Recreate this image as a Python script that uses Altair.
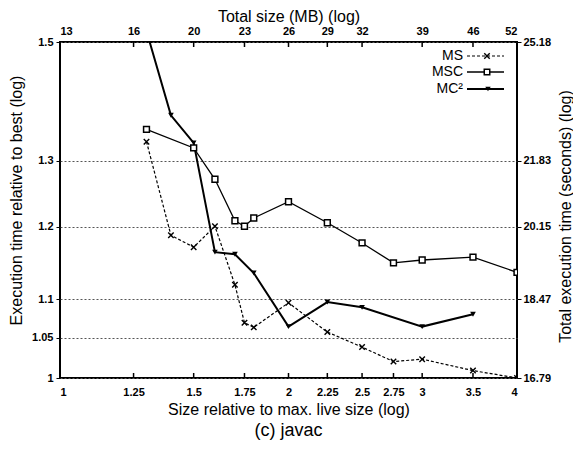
import altair as alt
import pandas as pd

# ---- data ----
x_ms = [1.3, 1.4, 1.5, 1.6, 1.7, 1.75, 1.8, 2, 2.25, 2.5, 2.75, 3, 3.5, 4]
y_ms = [1.33, 1.188, 1.171, 1.201, 1.119, 1.069, 1.063, 1.095, 1.057, 1.038, 1.02, 1.023, 1.009, 1.0]

x_msc = [1.3, 1.5, 1.6, 1.7, 1.75, 1.8, 2, 2.25, 2.5, 2.75, 3, 3.5, 4]
y_msc = [1.35, 1.32, 1.271, 1.209, 1.201, 1.213, 1.237, 1.206, 1.177, 1.149, 1.153, 1.157, 1.136]

x_mc2 = [1.3, 1.4, 1.5, 1.6, 1.7, 1.8, 2, 2.25, 2.5, 3, 3.5]
y_mc2 = [1.52, 1.373, 1.328, 1.164, 1.161, 1.135, 1.064, 1.096, 1.089, 1.064, 1.080]

bottom_ticks = [1, 1.25, 1.5, 1.75, 2, 2.25, 2.5, 2.75, 3, 3.5, 4]
bottom_labels = ["1", "1.25", "1.5", "1.75", "2", "2.25", "2.5", "2.75", "3", "3.5", "4"]
top_ticks = [1, 1.25, 1.5, 1.75, 2, 2.25, 2.5, 3, 3.5, 4]
top_labels = ["13", "16", "20", "23", "26", "29", "32", "39", "46", "52"]
left_ticks = [1, 1.05, 1.1, 1.2, 1.3, 1.5]
left_labels = ["1", "1.05", "1.1", "1.2", "1.3", "1.5"]
right_ticks = [1, 1.1, 1.2, 1.3, 1.5]
right_labels = ["16.79", "18.47", "20.15", "21.83", "25.18"]

series_names = ["MS", "MSC", "MC\u00b2"]

FONT = "Liberation Sans"


def label_expr(vals, labs):
    expr = "''"
    for v, l in reversed(list(zip(vals, labs))):
        expr = f"datum.value == {v} ? '{l}' : ({expr})"
    return expr


xs = alt.Scale(type="log", domain=[1, 4], nice=False, zero=False)
ys = alt.Scale(type="log", domain=[1, 1.5], nice=False, zero=False)

df_ms = pd.DataFrame({"x": x_ms, "y": y_ms})
df_msc = pd.DataFrame({"x": x_msc, "y": y_msc})
df_mc2 = pd.DataFrame({"x": x_mc2, "y": y_mc2})
df_bt = pd.DataFrame({"v": bottom_ticks})
df_tt = pd.DataFrame({"v": top_ticks})

common_axis = dict(labelFont=FONT, labelFontSize=11, labelFontWeight="bold", labelColor="black",
                   titleFont=FONT, titleFontSize=16, titleFontWeight="normal", titleColor="black",
                   domain=False)

left_axis = alt.Axis(orient="left", values=left_ticks, labelExpr=label_expr(left_ticks, left_labels),
                     grid=True, gridColor="#555555", gridDash=[2, 2], gridWidth=1,
                     tickSize=4, tickColor="black", tickWidth=1, labelPadding=3,
                     title="Execution time relative to best (log)", titleAngle=270,
                     titleX=-44, titleY=158, titleAlign="center", titleBaseline="middle",
                     **common_axis)
right_axis = alt.Axis(orient="right", values=right_ticks, labelExpr=label_expr(right_ticks, right_labels),
                      grid=False, tickSize=4, tickColor="black", tickWidth=1, labelPadding=2,
                      title="Total execution time (seconds) (log)", titleAngle=270,
                      titleX=48, titleY=174, titleAlign="center", titleBaseline="middle",
                      **common_axis)
bottom_axis = alt.Axis(orient="bottom", values=bottom_ticks, labelExpr=label_expr(bottom_ticks, bottom_labels),
                       grid=False, ticks=False, labelPadding=8,
                       title="Size relative to max. live size (log)",
                       titleX=228.5, titleY=31, titleAlign="center", titleBaseline="middle",
                       **common_axis)
top_axis = alt.Axis(orient="top", values=top_ticks, labelExpr=label_expr(top_ticks, top_labels),
                    grid=False, ticks=False, labelPadding=6,
                    title="Total size (MB) (log)",
                    titleX=228.5, titleY=-25.5, titleAlign="center", titleBaseline="middle",
                    **common_axis)

# inward tick marks (bottom / top) carrying the x axes
bt = alt.Chart(df_bt).mark_rule(color="black", strokeWidth=1.5).encode(
    x=alt.X("v:Q", scale=xs, axis=bottom_axis), y=alt.value(336), y2=alt.value(331))
tt = alt.Chart(df_tt).mark_rule(color="black", strokeWidth=1.5).encode(
    x=alt.X("v:Q", scale=xs, axis=top_axis), y=alt.value(0), y2=alt.value(5))

X = alt.X("x:Q", scale=xs, axis=None)

ms_line = alt.Chart(df_ms).mark_line(color="black", strokeWidth=1.2, strokeDash=[3, 2], clip=True).encode(
    x=X, y=alt.Y("y:Q", scale=ys, axis=left_axis))
ms_pts = alt.Chart(df_ms).mark_point(shape="M-1,-1L1,1M-1,1L1,-1", size=30, color="black",
                                     strokeWidth=1.4, filled=False, opacity=1, clip=True).encode(
    x=X, y=alt.Y("y:Q", scale=ys, axis=None))

msc_line = alt.Chart(df_msc).mark_line(color="black", strokeWidth=1.3, clip=True).encode(
    x=X, y=alt.Y("y:Q", scale=ys, axis=right_axis))
msc_pts = alt.Chart(df_msc).mark_point(shape="square", size=34, filled=True, fill="white", stroke="black",
                                       strokeWidth=1.5, opacity=1, clip=True).encode(
    x=X, y=alt.Y("y:Q", scale=ys, axis=None))

mc2_line = alt.Chart(df_mc2).mark_line(color="black", strokeWidth=2.0, clip=True).encode(
    x=X, y=alt.Y("y:Q", scale=ys, axis=None))
mc2_pts = alt.Chart(df_mc2).mark_point(shape="triangle-down", size=32, filled=True, color="black",
                                       opacity=1, clip=True).encode(
    x=X, y=alt.Y("y:Q", scale=ys, axis=None))

# ---- legend (top right, labels left of samples) ----
legend_layers = []
row_y = [14, 30, 47]
dashes = [[3, 2], [1, 0], [1, 0]]
widths = [1.2, 1.3, 2.0]
for i, name in enumerate(series_names):
    d = pd.DataFrame({"name": [name]})
    legend_layers.append(alt.Chart(d).mark_text(align="right", baseline="middle", font=FONT, fontSize=14,
                                                color="black").encode(
        text="name:N", x=alt.value(403), y=alt.value(row_y[i])))
    legend_layers.append(alt.Chart(d).mark_rule(color="black", strokeWidth=widths[i], strokeDash=dashes[i]).encode(
        x=alt.value(407), x2=alt.value(444), y=alt.value(row_y[i])))
legend_layers.append(alt.Chart(pd.DataFrame({"name": ["MS"]})).mark_point(
    shape="M-1,-1L1,1M-1,1L1,-1", size=30, color="black", strokeWidth=1.4, opacity=1).encode(
    x=alt.value(427), y=alt.value(row_y[0])))
legend_layers.append(alt.Chart(pd.DataFrame({"name": ["MSC"]})).mark_point(
    shape="square", size=30, filled=True, fill="white", stroke="black", strokeWidth=1.5, opacity=1).encode(
    x=alt.value(427), y=alt.value(row_y[1])))
legend_layers.append(alt.Chart(pd.DataFrame({"name": ["MC2"]})).mark_point(
    shape="triangle-down", size=30, filled=True, color="black", opacity=1).encode(
    x=alt.value(428), y=alt.value(row_y[2])))

chart = alt.layer(
    bt, tt, ms_line, msc_line, mc2_line, ms_pts, msc_pts, mc2_pts, *legend_layers
).resolve_axis(x="independent", y="independent").properties(
    width=457, height=336,
    padding={"left": 52, "top": 34, "right": 56, "bottom": 62},
    autosize=alt.AutoSizeParams(type="none"),
    title=alt.TitleParams("(c) javac", orient="bottom", anchor="middle", font=FONT, fontSize=18,
                          fontWeight="normal", color="black", offset=5),
).configure_view(stroke="black", strokeWidth=2)

chart.save("out.html", embed_options={"renderer": "svg", "actions": False})
